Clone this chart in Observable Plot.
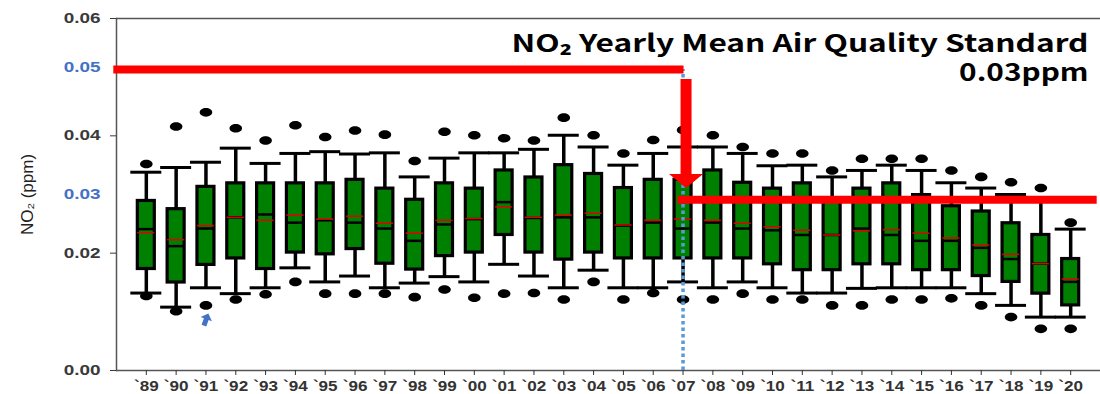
<!DOCTYPE html>
<html><head><meta charset="utf-8">
<script src="https://cdn.jsdelivr.net/npm/d3@7"></script>
<script src="https://cdn.jsdelivr.net/npm/@observablehq/plot@0.6"></script>
<style>body{margin:0;background:#fff;}</style>
</head><body><div id="chart"></div>
<script>
// ---- data ----
const years = ["1989","1990","1991","1992","1993","1994","1995","1996","1997","1998","1999","2000","2001","2002","2003","2004","2005","2006","2007","2008","2009","2010","2011","2012","2013","2014","2015","2016","2017","2018","2019","2020"];
const lowOutlier  = [0.0127,0.0101,0.0111,0.0121,0.0130,0.0151,0.0131,0.0131,0.0131,0.0125,0.0138,0.0124,0.0131,0.0132,0.0121,0.0151,0.0121,0.0132,0.0121,0.0121,0.0131,0.0121,0.0121,0.0111,0.0111,0.0121,0.0121,0.0123,0.0111,0.0091,0.0071,0.0071];
const lowWhisker  = [0.0132,0.0108,0.0141,0.0131,0.0141,0.0175,0.0151,0.0161,0.0141,0.0149,0.0160,0.0151,0.0181,0.0161,0.0141,0.0171,0.0141,0.0141,0.0151,0.0141,0.0151,0.0141,0.0132,0.0132,0.0140,0.0141,0.0141,0.0141,0.0131,0.0111,0.0091,0.0091];
const q1          = [0.0173,0.0150,0.0180,0.0191,0.0173,0.0201,0.0198,0.0207,0.0182,0.0172,0.0195,0.0201,0.0231,0.0201,0.0189,0.0201,0.0191,0.0191,0.0191,0.0191,0.0191,0.0181,0.0171,0.0171,0.0181,0.0181,0.0171,0.0171,0.0161,0.0151,0.0131,0.0111];
const median      = [0.0241,0.0212,0.0242,0.0261,0.0266,0.0252,0.0256,0.0252,0.0242,0.0221,0.0249,0.0258,0.0287,0.0260,0.0261,0.0261,0.0247,0.0252,0.0242,0.0252,0.0242,0.0239,0.0231,0.0231,0.0242,0.0231,0.0221,0.0221,0.0209,0.0190,0.0182,0.0151];
const mean        = [0.0235,0.0223,0.0247,0.0261,0.0256,0.0265,0.0258,0.0263,0.0251,0.0234,0.0256,0.0259,0.0279,0.0261,0.0265,0.0268,0.0248,0.0256,0.0258,0.0256,0.0251,0.0245,0.0239,0.0231,0.0238,0.0240,0.0234,0.0226,0.0214,0.0198,0.0182,0.0156];
const q3          = [0.0289,0.0275,0.0313,0.0319,0.0319,0.0319,0.0319,0.0325,0.0310,0.0291,0.0319,0.0310,0.0341,0.0329,0.0350,0.0335,0.0311,0.0325,0.0325,0.0341,0.0320,0.0310,0.0319,0.0293,0.0310,0.0319,0.0299,0.0280,0.0271,0.0251,0.0231,0.0190];
const highWhisker = [0.0338,0.0346,0.0355,0.0379,0.0353,0.0370,0.0373,0.0369,0.0371,0.0330,0.0362,0.0371,0.0371,0.0377,0.0401,0.0381,0.0350,0.0370,0.0381,0.0381,0.0370,0.0349,0.0350,0.0330,0.0341,0.0350,0.0341,0.0320,0.0311,0.0300,0.0291,0.0241];
const highOutlier = [0.0352,0.0416,0.0440,0.0413,0.0392,0.0418,0.0398,0.0409,0.0402,0.0357,0.0407,0.0401,0.0396,0.0392,0.0431,0.0401,0.0370,0.0393,0.0410,0.0401,0.0381,0.0370,0.0370,0.0341,0.0361,0.0361,0.0361,0.0341,0.0330,0.0321,0.0311,0.0252];

const yTicks = [0, 0.02, 0.04, 0.06];
const standardValues = [0.0513, 0.0291];
const standardLabels = ["0.05", "0.03"];
const standardLabelValues = [0.0516, 0.0300];
const changeYear = "2007";
const arrowFrom = 0.0496;
const arrowTo = 0.0311;
const markYear = "1991";
const markValue = 0.0086;
const titleLine1 = "NO\u2082 Yearly Mean Air Quality Standard";
const titleLine2 = "0.03ppm";
const yLabel = "NO\u2082 (ppm)";

const rows = years.map((year, i) => ({
  year, lo: lowOutlier[i], lw: lowWhisker[i], q1: q1[i], med: median[i],
  mean: mean[i], q3: q3[i], hw: highWhisker[i], hi: highOutlier[i]
}));

// ---- custom symbols ----
const K = 0.5523;
const ellipse = {draw(c) {
  const rx = 6.3, ry = 4.3;
  c.moveTo(rx, 0);
  c.bezierCurveTo(rx, ry*K, rx*K, ry, 0, ry);
  c.bezierCurveTo(-rx*K, ry, -rx, ry*K, -rx, 0);
  c.bezierCurveTo(-rx, -ry*K, -rx*K, -ry, 0, -ry);
  c.bezierCurveTo(rx*K, -ry, rx, -ry*K, rx, 0);
  c.closePath();
}};
const headDown = {draw(c) {
  c.moveTo(-17, -14); c.lineTo(17, -14); c.lineTo(0, 0); c.closePath();
}};
const upArrow = {draw(c) {
  c.moveTo(0, -7); c.lineTo(6, -1); c.lineTo(2.5, -1); c.lineTo(2.5, 6);
  c.lineTo(-2.5, 6); c.lineTo(-2.5, -1); c.lineTo(-6, -1); c.closePath();
}};

const red = "#ff0000";
const titleFont = "'Noto Sans CJK KR', 'Noto Sans', sans-serif";
const chart = Plot.plot({
  width: 1100, height: 394,
  marginLeft: 116, marginRight: 0, marginTop: 18, marginBottom: 24,
  style: {fontFamily: "'Liberation Sans', Arial, sans-serif", background: "#fff"},
  x: {type: "band", domain: years, paddingInner: 0.43, paddingOuter: 0.715, round: false},
  y: {domain: [0, 0.06]},
  marks: [
    Plot.ruleY(yTicks.filter(d => d === 0 || d === 0.06), {stroke: "#555", strokeWidth: 1.5}),
    Plot.frame({anchor: "left", stroke: "#555", strokeWidth: 1.5}),
    Plot.axisY(yTicks, {tickSize: 6, tickPadding: 10, tickFormat: d3.format(".2f"), fontSize: 14, fontWeight: "bold", color: "#3a3a3a", label: null}),
    Plot.axisX({tickSize: 5, tickPadding: 6, tickFormat: d => "`" + d.slice(2), fontSize: 14, fontWeight: "bold", color: "#333", label: null}),
    Plot.text(standardLabels, {y: (d, i) => standardLabelValues[i], text: d => d, frameAnchor: "left", dx: -16, textAnchor: "end", fill: "#4472c4", fontSize: 14, fontWeight: "bold", ariaDescription: "stdlabels"}),
    Plot.text([yLabel], {text: d => d, frameAnchor: "left", rotate: -90, dx: -89, textAnchor: "middle", lineAnchor: "middle", fontSize: 17, fill: "#222"}),
    // boxplots
    Plot.ruleX(rows, {x: "year", y1: "lw", y2: "hw", stroke: "#000", strokeWidth: 3.5}),
    Plot.tickY(rows, {x: "year", y: "lw", stroke: "#000", strokeWidth: 3, insetLeft: -7, insetRight: -7}),
    Plot.tickY(rows, {x: "year", y: "hw", stroke: "#000", strokeWidth: 3, insetLeft: -7, insetRight: -7}),
    Plot.barY(rows, {x: "year", y1: "q1", y2: "q3", fill: "#008000", stroke: "#000", strokeWidth: 3.2}),
    Plot.tickY(rows, {x: "year", y: "med", stroke: "#000", strokeWidth: 2.5}),
    Plot.tickY(rows, {x: "year", y: "mean", stroke: "#e00000", strokeWidth: 1.5}),
    Plot.dot(rows, {x: "year", y: "lo", symbol: ellipse, fill: "#000", stroke: null}),
    Plot.dot(rows, {x: "year", y: "hi", symbol: ellipse, fill: "#000", stroke: null}),
    // annotations
    Plot.ruleX([changeYear], {x: d => d, y1: 0, y2: standardValues[0], stroke: "#5b9bd5", strokeWidth: 3.5, strokeDasharray: "3.5,3"}),
    Plot.ruleY([standardValues[0]], {y: d => d, x1: () => years[0], x2: () => changeYear, stroke: red, strokeWidth: 8, insetLeft: -24, insetRight: 7.5}),
    Plot.ruleY([standardValues[1]], {y: d => d, x1: () => changeYear, x2: () => years[years.length - 1], stroke: red, strokeWidth: 8, insetLeft: 3.5, insetRight: -18}),
    Plot.ruleX([changeYear], {x: d => d, y1: arrowFrom, y2: arrowTo + 0.0018, stroke: red, strokeWidth: 11, dx: 3}),
    Plot.dot([changeYear], {x: d => d, y: arrowTo, symbol: headDown, fill: red, stroke: null, dx: 3}),
    Plot.dot([markYear], {x: d => d, y: markValue, symbol: upArrow, fill: "#4472c4", stroke: null, rotate: 20}),
    Plot.text([titleLine1], {text: d => d, frameAnchor: "top-right", dx: -12, dy: 16, textAnchor: "end", fontSize: 24, fontWeight: "bold", fontFamily: titleFont, fill: "#000", ariaDescription: "title1"}),
    Plot.text([titleLine2], {text: d => d, frameAnchor: "top-right", dx: -12, dy: 45, textAnchor: "end", fontSize: 24, fontWeight: "bold", fontFamily: titleFont, fill: "#000", ariaDescription: "title2"})
  ]
});
document.getElementById("chart").appendChild(chart);

// the reference image is horizontally stretched: widen the text glyphs to match
function stretch(selector, factor) {
  chart.querySelectorAll(selector).forEach(t => {
    const w = t.getComputedTextLength();
    if (w > 0) {
      t.setAttribute("textLength", (w * factor).toFixed(1));
      t.setAttribute("lengthAdjust", "spacingAndGlyphs");
    }
  });
}
stretch('g[aria-label="x-axis tick label"] text', 1.22);
stretch('g[aria-label="y-axis tick label"] text', 1.35);
stretch('g[aria-description="stdlabels"] text', 1.35);
stretch('g[aria-description="title1"] text', 1.32);
stretch('g[aria-description="title2"] text', 1.24);
</script>
</body></html>
